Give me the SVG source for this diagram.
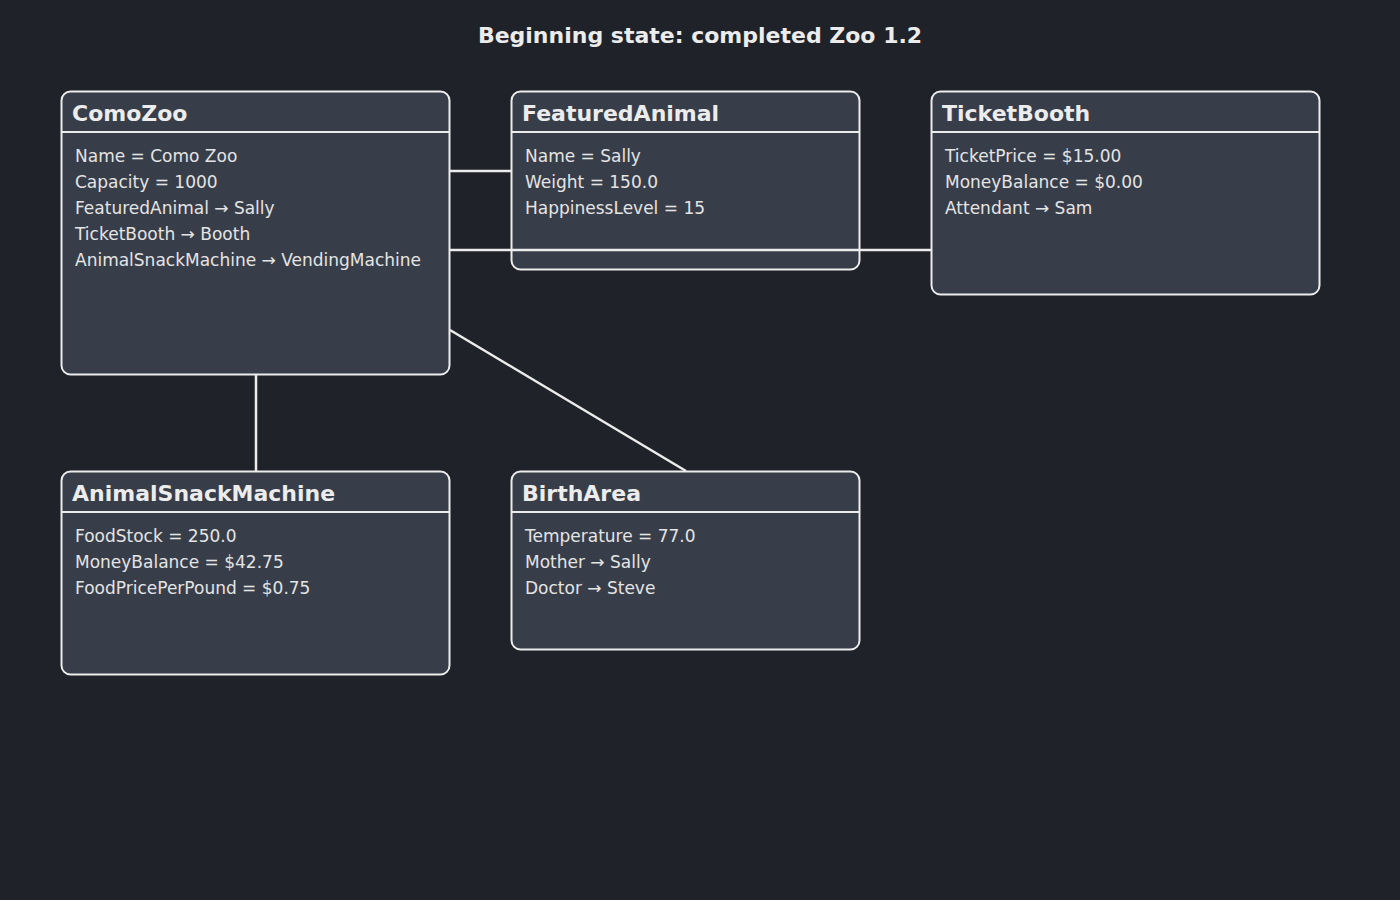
<svg xmlns="http://www.w3.org/2000/svg" width="1400" height="900" viewBox="0 0 1400 900">
<style>
.bg{fill:#1f2229}
.box{fill:#383e49;stroke:#ececec;stroke-width:2}
.sep{stroke:#ececec;stroke-width:2}
.hdr{font-family:"DejaVu Sans",sans-serif;font-weight:bold;font-size:22px;fill:#ececec}
.row{font-family:"DejaVu Sans",sans-serif;font-size:17px;fill:#e4e4e4}
.title{font-family:"DejaVu Sans",sans-serif;font-weight:bold;font-size:22px;fill:#ececec;text-anchor:middle}
.edge{stroke:#ececec;stroke-width:2.5;fill:none}
</style>
<rect class="bg" x="0" y="0" width="1400" height="900"/>
<text class="title" x="700" y="43">Beginning state: completed Zoo 1.2</text>
<g id="ComoZoo">
<rect class="box" x="61.5" y="91.5" width="388" height="283" rx="9"/>
<line class="sep" x1="61.5" y1="132" x2="449.5" y2="132"/>
<text class="hdr" x="72" y="121">ComoZoo</text>
<text class="row" x="75" y="162">Name = Como Zoo</text>
<text class="row" x="75" y="188">Capacity = 1000</text>
<text class="row" x="75" y="214">FeaturedAnimal → Sally</text>
<text class="row" x="75" y="240">TicketBooth → Booth</text>
<text class="row" x="75" y="266">AnimalSnackMachine → VendingMachine</text>
</g>
<g id="FeaturedAnimal">
<rect class="box" x="511.5" y="91.5" width="348" height="178" rx="9"/>
<line class="sep" x1="511.5" y1="132" x2="859.5" y2="132"/>
<text class="hdr" x="522" y="121">FeaturedAnimal</text>
<text class="row" x="525" y="162">Name = Sally</text>
<text class="row" x="525" y="188">Weight = 150.0</text>
<text class="row" x="525" y="214">HappinessLevel = 15</text>
</g>
<g id="TicketBooth">
<rect class="box" x="931.5" y="91.5" width="388" height="203" rx="9"/>
<line class="sep" x1="931.5" y1="132" x2="1319.5" y2="132"/>
<text class="hdr" x="942" y="121">TicketBooth</text>
<text class="row" x="945" y="162">TicketPrice = $15.00</text>
<text class="row" x="945" y="188">MoneyBalance = $0.00</text>
<text class="row" x="945" y="214">Attendant → Sam</text>
</g>
<g id="AnimalSnackMachine">
<rect class="box" x="61.5" y="471.5" width="388" height="203" rx="9"/>
<line class="sep" x1="61.5" y1="512" x2="449.5" y2="512"/>
<text class="hdr" x="72" y="501">AnimalSnackMachine</text>
<text class="row" x="75" y="542">FoodStock = 250.0</text>
<text class="row" x="75" y="568">MoneyBalance = $42.75</text>
<text class="row" x="75" y="594">FoodPricePerPound = $0.75</text>
</g>
<g id="BirthArea">
<rect class="box" x="511.5" y="471.5" width="348" height="178" rx="9"/>
<line class="sep" x1="511.5" y1="512" x2="859.5" y2="512"/>
<text class="hdr" x="522" y="501">BirthArea</text>
<text class="row" x="525" y="542">Temperature = 77.0</text>
<text class="row" x="525" y="568">Mother → Sally</text>
<text class="row" x="525" y="594">Doctor → Steve</text>
</g>
<g id="connectors">
<line class="edge" x1="450" y1="171" x2="511" y2="171"/>
<line class="edge" x1="450" y1="250" x2="931" y2="250"/>
<line class="edge" x1="256" y1="375" x2="256" y2="471"/>
<line class="edge" x1="450" y1="330" x2="686" y2="471"/>
</g>
</svg>
